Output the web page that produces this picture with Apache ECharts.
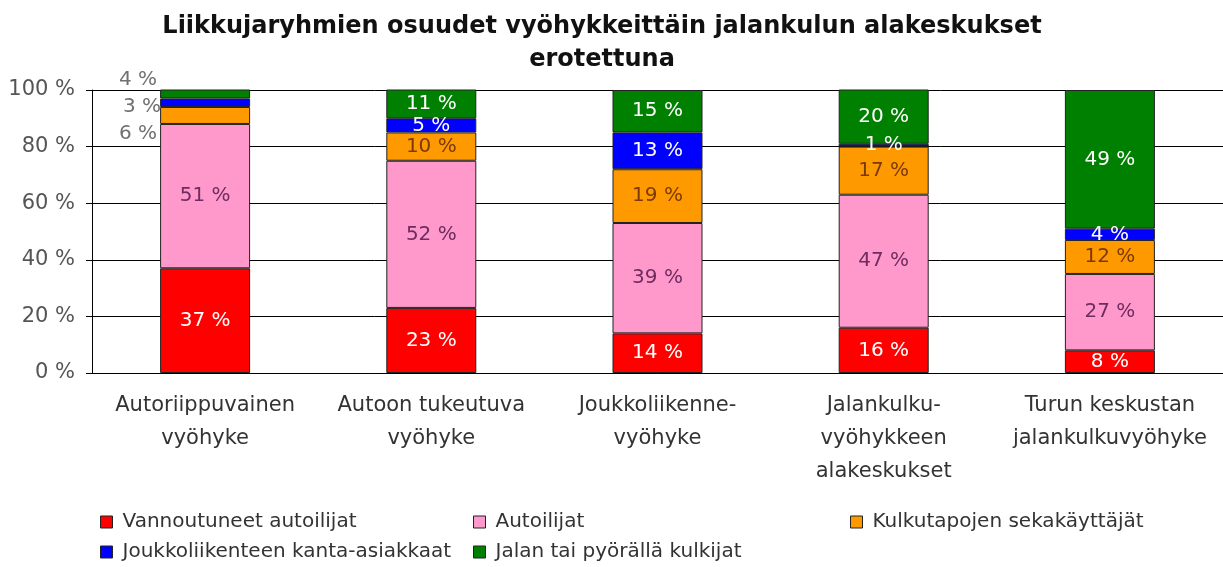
<!DOCTYPE html>
<html>
<head>
<meta charset="utf-8">
<script src="https://cdn.jsdelivr.net/npm/echarts@6/dist/echarts.min.js"></script>
<style>
  html, body { margin: 0; padding: 0; background: #fff; }
  #chart { width: 1223px; height: 567px; }
</style>
</head>
<body>
<div id="chart"></div>
<script>
var categories = [
  'Autoriippuvainen\nvyöhyke',
  'Autoon tukeutuva\nvyöhyke',
  'Joukkoliikenne-\nvyöhyke',
  'Jalankulku-\nvyöhykkeen\nalakeskukset',
  'Turun keskustan\njalankulkuvyöhyke'
];
var seriesNames = [
  'Vannoutuneet autoilijat',
  'Autoilijat',
  'Kulkutapojen sekakäyttäjät',
  'Joukkoliikenteen kanta-asiakkaat',
  'Jalan tai pyörällä kulkijat'
];
var vannoutuneet = [37, 23, 14, 16, 8];
var autoilijat = [51, 52, 39, 47, 27];
var sekakayttajat = [6, 10, 19, 17, 12];
var kantaAsiakkaat = [3, 5, 13, 1, 4];
var jalanPyoralla = [4, 11, 15, 20, 49];
var yTicks = [0, 20, 40, 60, 80, 100];

var colors = ['#ff0000', '#ff99cc', '#ff9900', '#0000ff', '#008000'];
var labelColors = ['#fff', '#6e2c60', '#7a3a08', '#fff', '#fff'];
var allData = [vannoutuneet, autoilijat, sekakayttajat, kantaAsiakkaat, jalanPyoralla];
var font = 'DejaVu Sans';

// first bar has its small labels outside on the left
var outsideOffsets = { 2: [0, 18], 3: [4, 4], 4: [0, -14] };

var chart = echarts.init(document.getElementById('chart'));

var series = allData.map(function (vals, si) {
  return {
    name: seriesNames[si],
    type: 'bar',
    stack: 'total',
    barWidth: 90,
    itemStyle: { color: colors[si], borderColor: '#222', borderWidth: 1 },
    label: {
      show: true,
      position: 'inside',
      color: labelColors[si],
      fontFamily: font,
      fontSize: 20,
      formatter: '{c} %'
    },
    data: vals.map(function (v, i) {
      if (i === 0 && outsideOffsets[si]) {
        return {
          value: v,
          label: { position: 'left', color: '#707070', offset: outsideOffsets[si], distance: 3 }
        };
      }
      return v;
    })
  };
});

chart.setOption({
  animation: false,
  title: {
    text: 'Liikkujaryhmien osuudet vyöhykkeittäin jalankulun alakeskukset\nerotettuna',
    left: 602,
    textAlign: 'center',
    top: 10,
    padding: 0,
    textStyle: { fontFamily: font, fontSize: 24, fontWeight: 'bold', color: '#111', lineHeight: 33 }
  },
  grid: { left: 92, right: 0, top: 90, bottom: 194, containLabel: false },
  xAxis: {
    type: 'category',
    data: categories,
    axisLine: { show: true, lineStyle: { color: '#000' } },
    axisTick: { show: false },
    axisLabel: { interval: 0, fontFamily: font, fontSize: 21, color: '#333', lineHeight: 33, margin: 16 }
  },
  yAxis: {
    type: 'value',
    min: yTicks[0],
    max: yTicks[yTicks.length - 1],
    interval: 20,
    axisLine: { show: true, lineStyle: { color: '#000' } },
    axisTick: { show: true, length: 6, lineStyle: { color: '#000' } },
    splitLine: { show: true, lineStyle: { color: '#000', width: 1 } },
    axisLabel: { fontFamily: font, fontSize: 21, color: '#555', margin: 17, formatter: '{value} %' }
  },
  legend: [
    { data: [seriesNames[0]], left: 95, top: 507 },
    { data: [seriesNames[1]], left: 468, top: 507 },
    { data: [seriesNames[2]], left: 845, top: 507 },
    { data: [seriesNames[3]], left: 95, top: 537 },
    { data: [seriesNames[4]], left: 468, top: 537 }
  ].map(function (l) {
    l.itemWidth = 12;
    l.itemHeight = 12;
    l.itemGap = 0;
    l.icon = 'rect';
    l.itemStyle = { borderColor: '#222', borderWidth: 1 };
    l.textStyle = { fontFamily: font, fontSize: 20, color: '#333', padding: [0, 0, 0, 5] };
    return l;
  }),
  series: series
});
</script>
</body>
</html>
